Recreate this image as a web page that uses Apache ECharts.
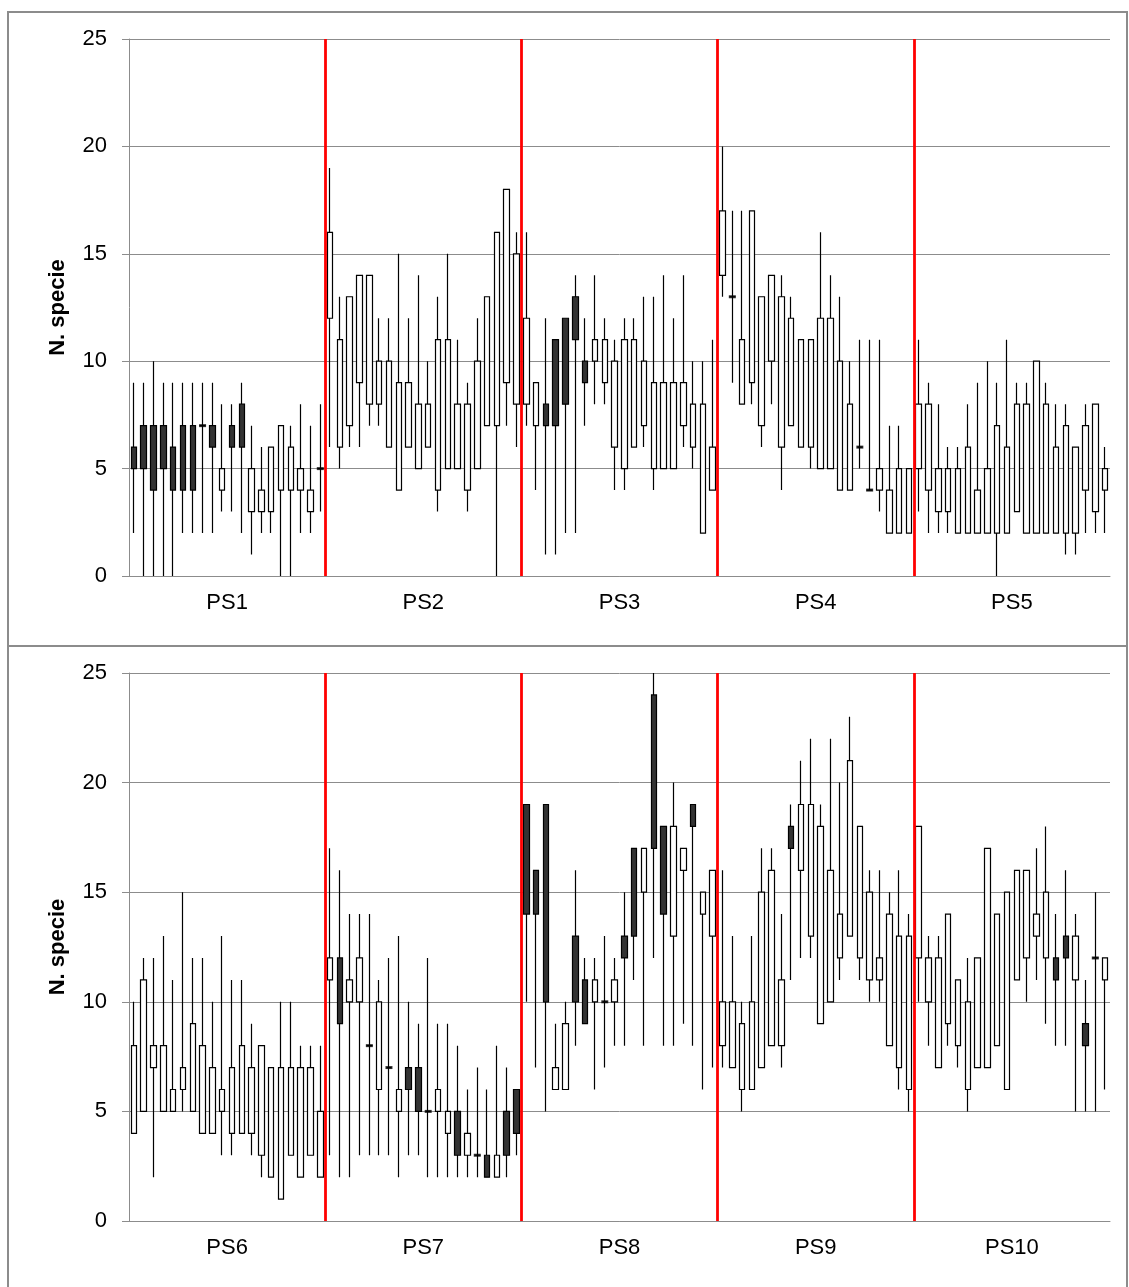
<!DOCTYPE html>
<html>
<head>
<meta charset="utf-8">
<script src="https://cdn.jsdelivr.net/npm/echarts@6/dist/echarts.min.js"></script>
<style>
  html, body { margin: 0; padding: 0; background: #fff; }
  #chart { width: 1129px; height: 1287px; }
</style>
</head>
<body>
<div id="chart"></div>
<script>
// each row: [open, close, low, high]
const PS1 = [[6,5,2,9],[7,5,0,9],[7,4,0,10],[7,5,0,9],[6,4,0,9],[7,4,2,9],[7,4,2,9],[7,7,2,9],[7,6,2,9],[4,5,3,8],
             [7,6,3,8],[8,6,2,9],[3,5,1,7],[3,4,2,6],[3,6,2,6],[4,7,0,7],[4,6,0,7],[4,5,2,8],[3,4,2,7],[5,5,3,8]];
const PS2 = [[12,16,6,19],[6,11,5,13],[7,13,6,13],[9,14,6,14],[8,14,7,14],[8,10,7,12],[6,10,6,12],[4,9,4,15],[6,9,6,12],[5,8,5,14],
             [6,8,6,10],[4,11,3,13],[5,11,5,15],[5,8,5,11],[4,8,3,9],[5,10,5,12],[7,13,7,13],[7,16,0,16],[9,18,7,18],[8,15,6,16]];
const PS3 = [[8,12,7,16],[7,9,4,9],[8,7,1,12],[11,7,1,11],[12,8,2,12],[13,11,2,14],[10,9,7,12],[10,11,8,14],[9,11,8,12],[6,10,4,11],
             [5,11,4,12],[6,11,6,12],[7,10,6,13],[5,9,4,13],[5,9,5,14],[5,9,5,12],[7,9,6,14],[6,8,5,10],[2,8,2,10],[4,6,4,11]];
const PS4 = [[14,17,13,20],[13,13,9,17],[8,11,8,17],[9,17,8,17],[7,13,6,13],[10,14,8,14],[6,13,4,14],[7,12,7,13],[6,11,6,11],[6,11,5,11],
             [5,12,5,16],[5,12,5,14],[4,10,4,13],[4,8,4,10],[6,6,5,11],[4,4,4,11],[4,5,3,11],[2,4,2,7],[2,5,2,7],[2,5,2,5]];
const PS5 = [[5,8,3,11],[4,8,2,9],[3,5,2,8],[3,5,2,6],[2,5,2,6],[2,6,2,8],[2,4,2,9],[2,5,2,10],[2,7,0,9],[2,6,2,11],
             [3,8,3,9],[2,8,2,9],[2,10,2,10],[2,8,2,9],[2,6,2,8],[2,7,1,8],[2,6,1,6],[4,7,2,8],[3,8,2,8],[4,5,2,6]];
const PS6 = [[4,8,4,10],[5,11,5,12],[7,8,2,12],[5,8,5,13],[5,6,5,11],[6,7,5,15],[5,9,5,12],[4,8,4,12],[4,7,4,10],[5,6,3,13],
             [4,7,3,11],[4,8,4,11],[4,7,3,9],[3,8,2,8],[2,7,2,7],[1,7,1,10],[3,7,3,10],[2,7,2,8],[3,7,3,8],[2,5,2,8]];
const PS7 = [[11,12,3,17],[12,9,2,16],[10,11,2,14],[10,12,3,14],[8,8,3,14],[6,10,3,11],[7,7,3,12],[5,6,2,13],[7,6,3,10],[7,5,3,9],
             [5,5,2,12],[5,6,2,9],[4,5,2,9],[5,3,2,8],[3,4,2,6],[3,3,2,7],[3,2,2,6],[2,3,2,8],[5,3,2,7],[6,4,3,6]];
const PS8 = [[19,14,10,19],[16,14,7,16],[19,10,5,19],[6,7,6,9],[6,9,6,10],[13,10,8,16],[11,9,9,12],[10,11,6,12],[10,10,7,13],[10,11,8,12],
             [13,12,8,15],[17,13,11,17],[15,17,8,17],[24,17,12,25],[18,14,8,18],[13,18,8,20],[16,17,9,17],[19,18,8,19],[14,15,6,15],[13,16,7,16]];
const PS9 = [[8,10,7,16],[7,10,7,13],[6,9,5,10],[6,10,6,13],[7,15,7,17],[8,16,8,17],[8,11,7,14],[18,17,11,19],[16,19,12,21],[13,19,12,22],
             [9,18,9,19],[10,16,10,22],[12,14,11,20],[13,21,13,23],[12,18,11,18],[11,15,10,16],[11,12,10,16],[8,14,8,15],[7,13,6,16],[6,13,5,14]];
const PS10 = [[12,18,10,18],[10,12,8,13],[7,12,7,13],[9,14,8,14],[8,11,7,11],[6,10,5,12],[7,12,7,12],[7,17,7,17],[8,14,8,14],[6,15,6,15],
              [11,16,11,16],[12,16,10,16],[13,14,11,17],[12,15,9,18],[12,11,8,14],[13,12,8,16],[11,13,5,14],[9,8,5,11],[12,12,5,15],[11,12,6,12]];

const topGroups = ['PS1', 'PS2', 'PS3', 'PS4', 'PS5'];
const bottomGroups = ['PS6', 'PS7', 'PS8', 'PS9', 'PS10'];
const topSets = [PS1, PS2, PS3, PS4, PS5];
const bottomSets = [PS6, PS7, PS8, PS9, PS10];
const yTicks = [0, 5, 10, 15, 20, 25];

const FONT = 'Liberation Sans, Arial, sans-serif';
const GRAY = '#8c8c8c';

const chart = echarts.init(document.getElementById('chart'), null, { renderer: 'canvas' });

const grids = [], xAxes = [], yAxes = [], series = [];

function addPanel(p, groups, sets, top, height) {
  const rows = [].concat(...sets);
  const n = rows.length;
  // group boundaries (between stations) as positions on a 0..n value axis
  const bounds = [];
  let acc = 0;
  sets.slice(0, -1).forEach(s => { acc += s.length; bounds.push(acc); });

  // open == close: overlay a thick dash like the original
  const dojis = [];
  rows.forEach((r, i) => { if (r[0] === r[1]) dojis.push([i, r[1]]); });

  grids.push({ left: 129, right: 19, top: top, height: height, containLabel: false });
  const xBase = xAxes.length;
  xAxes.push({
    type: 'category', gridIndex: p, data: rows.map((r, i) => String(i + 1)),
    boundaryGap: true,
    axisLine: { show: true, lineStyle: { color: GRAY, width: 1 } },
    axisTick: { show: false }, axisLabel: { show: false }, splitLine: { show: false }
  });
  xAxes.push({
    type: 'category', gridIndex: p, data: groups, position: 'bottom',
    axisLine: { show: false }, axisTick: { show: false }, splitLine: { show: false },
    axisLabel: { color: '#000', fontSize: 22, fontFamily: FONT, margin: 16 }
  });
  xAxes.push({ type: 'value', gridIndex: p, min: 0, max: n, show: false });

  yAxes.push({
    type: 'value', gridIndex: p, min: yTicks[0], max: yTicks[yTicks.length - 1], interval: 5,
    name: 'N. specie', nameLocation: 'middle', nameGap: 60,
    nameTextStyle: { color: '#000', fontSize: 22, fontWeight: 'bold', fontFamily: FONT },
    axisLine: { show: true, lineStyle: { color: GRAY, width: 1 } },
    axisTick: { show: true, length: 7, lineStyle: { color: GRAY } },
    axisLabel: { color: '#000', fontSize: 22, fontFamily: FONT, margin: 22 },
    splitLine: { show: true, lineStyle: { color: GRAY, width: 1 } }
  });

  series.push({
    type: 'candlestick', xAxisIndex: xBase, yAxisIndex: p,
    data: rows, barWidth: 6, animation: false, silent: true,
    itemStyle: {
      color: '#ffffff', color0: '#333333',
      borderColor: '#000000', borderColor0: '#000000', borderColorDoji: '#000000',
      borderWidth: 1.2
    }
  });
  series.push({
    type: 'scatter', xAxisIndex: xBase, yAxisIndex: p, data: dojis,
    symbol: 'rect', symbolSize: [7, 3], itemStyle: { color: '#000' },
    animation: false, silent: true, z: 3
  });
  series.push({
    type: 'line', xAxisIndex: xBase + 2, yAxisIndex: p, data: [], animation: false, silent: true,
    markLine: {
      symbol: 'none', silent: true, animation: false,
      label: { show: false },
      lineStyle: { color: '#ff0000', width: 2.8, type: 'solid' },
      data: bounds.map(b => ({ xAxis: b }))
    }
  });
}

addPanel(0, topGroups, topSets, 39, 537);
addPanel(1, bottomGroups, bottomSets, 673, 548);

chart.setOption({
  backgroundColor: '#fff',
  animation: false,
  grid: grids,
  xAxis: xAxes,
  yAxis: yAxes,
  series: series,
  graphic: [
    { type: 'rect', shape: { x: 8, y: 12, width: 1119, height: 634 }, style: { fill: 'none', stroke: GRAY, lineWidth: 2 }, silent: true },
    { type: 'rect', shape: { x: 8, y: 646, width: 1119, height: 650 }, style: { fill: 'none', stroke: GRAY, lineWidth: 2 }, silent: true }
  ]
});
</script>
</body>
</html>
